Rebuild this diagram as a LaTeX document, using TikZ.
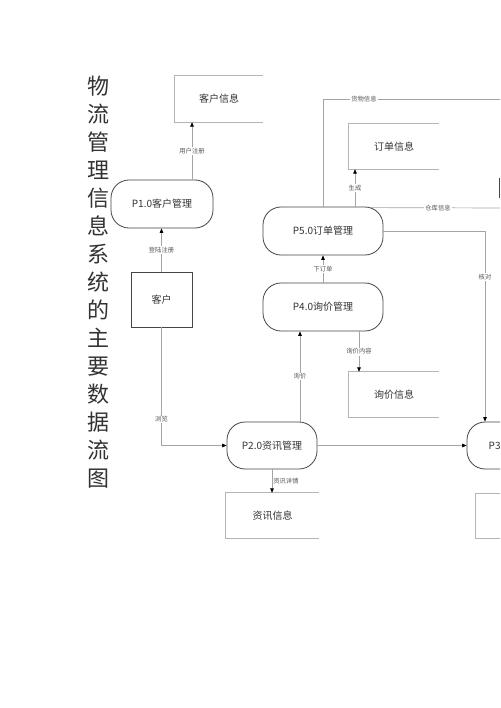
\documentclass[tikz,border=0pt]{standalone}
\usepackage{fontspec}
\setmainfont{Noto Sans CJK SC}
\usetikzlibrary{arrows.meta,calc}
\definecolor{lineg}{HTML}{A4A4A4}
\definecolor{boxg}{HTML}{B4B4B4}
\definecolor{procb}{HTML}{454545}
\definecolor{txt}{HTML}{333333}
\definecolor{lbl}{HTML}{555555}
\begin{document}
\begin{tikzpicture}[x=1pt,y=-1pt,
  proc/.style={draw=procb, line width=0.8pt, rounded corners=18pt, minimum width=#1,
    minimum height=48pt, inner sep=0pt, text=txt, font=\fontsize{10}{12}\selectfont},
  store/.style={minimum width=#1, minimum height=45pt, inner sep=0pt, text=txt,
    font=\fontsize{10}{12}\selectfont},
  storeline/.style={draw=boxg, line width=0.7pt},
  ext/.style={draw=procb, line width=0.8pt, inner sep=0pt, text=txt, font=\fontsize{10}{12}\selectfont},
  conn/.style={draw=lineg, line width=0.7pt},
  arr/.style={conn, -{Triangle[length=4.5pt,width=3.6pt,color=black]}},
  lab/.style={fill=white, inner sep=1pt, text=lbl, font=\fontsize{6.3}{7}\selectfont},
  labr/.style={inner sep=1pt, text=lbl, font=\fontsize{6.3}{7}\selectfont, right},
  title/.style={align=center, text=txt, font=\fontsize{22}{28}\selectfont, inner sep=0pt}
]
\useasboundingbox (0,0) rectangle (500,708);
\clip (0,0) rectangle (500,708);

% title
\node[title] (ttl) at (98,282) {物\\流\\管\\理\\信\\息\\系\\统\\的\\主\\要\\数\\据\\流\\图};

% data stores
\node[store=88pt, minimum height=46pt] (khxx) at (219,99) {客户信息};
\node[store=90pt] (ddxx) at (394,146.5) {订单信息};
\node[store=90pt] (xjxx) at (394,394.5) {询价信息};
\node[store=93pt] (zxxx) at (272.5,515.5) {资讯信息};
\node[store=90pt, minimum height=44pt] (kcxx) at (521,516) {};
\foreach \s in {khxx,ddxx,xjxx,zxxx,kcxx}
  \draw[storeline] (\s.north east) -- (\s.north west) -- (\s.south west) -- (\s.south east);

% external entity
\node[ext, minimum width=61pt, minimum height=55pt] (kh) at (161.5,299.5) {客户};
\draw[procb, line width=0.8pt] (499,178) -- (499,198);

% processes
\node[proc=102pt] (p1) at (162,204) {P1.0客户管理};
\node[proc=90pt, minimum height=47pt] (p2) at (272,445.5) {P2.0资讯管理};
\node[proc=100pt, minimum height=47pt] (p3) at (517,445.5) {};
\node[anchor=west, inner sep=0pt, text=txt, font=\fontsize{10}{12}\selectfont] (p3t) at (488.5,445.5) {P3};
\node[proc=120pt] (p4) at (323,307) {P4.0询价管理};
\node[proc=120pt] (p5) at (323,231) {P5.0订单管理};

% helper coordinates
\coordinate (hw) at (505,99);
\coordinate (ck) at (505,208);
\coordinate (hd) at (485,231);

% connectors
\draw[arr] ([xshift=30pt]p1.north) -- node[lab]{用户注册} ([xshift=30pt]p1.north |- khxx.south);
\draw[arr] (kh.north) -- node[lab]{登陆注册} (kh.north |- p1.south);
\draw[arr] (kh.south) -- node[lab, pos=0.78]{浏览} (kh.south |- p2.west) -- (p2.west);
\draw[arr] (p2.east) -- (p3.west);
\draw[arr] (p2.south) -- node[labr]{资讯详情} (p2.south |- zxxx.north);
\draw[arr] ([xshift=28pt]p2.north) -- node[lab]{询价} ([xshift=28pt]p2.north |- p4.south);
\draw[arr] ([xshift=36pt]p4.south) -- node[lab]{询价内容} ([xshift=36pt]p4.south |- xjxx.north);
\draw[arr] (p4.north) -- node[lab]{下订单} (p5.south);
\draw[arr] ([xshift=32pt]p5.north) -- node[lab]{生成} ([xshift=32pt]p5.north |- ddxx.south);
\draw[conn] (p5.north) -- (p5.north |- hw) -- node[lab, pos=0.225]{货物信息} (hw);
\draw[conn] ([xshift=48pt,yshift=-1pt]p5.north) -- node[lab]{仓库信息} (ck);
\draw[arr] (p5.east) -- (hd) -- node[lab, pos=0.24]{核对} (hd |- p3.north);
\end{tikzpicture}
\end{document}
